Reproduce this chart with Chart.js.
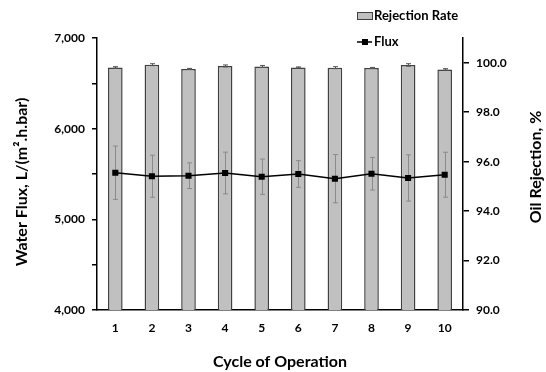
<!DOCTYPE html>
<html>
<head>
<meta charset="utf-8">
<script src="https://cdn.jsdelivr.net/npm/chart.js@4.4.1/dist/chart.umd.min.js"></script>
<style>
  html, body { margin: 0; padding: 0; background: #fff; }
  #chart { display: block; }
</style>
</head>
<body>
<canvas id="chart" width="546" height="372"></canvas>
<script>
const cycles = ["1", "2", "3", "4", "5", "6", "7", "8", "9", "10"];
const rejectionRate = [99.81, 99.92, 99.75, 99.87, 99.85, 99.81, 99.80, 99.79, 99.91, 99.73];
const rejectionErr = [0.03, 0.04, 0.02, 0.04, 0.04, 0.02, 0.04, 0.02, 0.05, 0.03];
const flux = [5514, 5475, 5481, 5511, 5470, 5500, 5448, 5503, 5456, 5492];
const fluxErr = [294, 232, 142, 230, 195, 147, 266, 180, 255, 248];

const FONT = "Lato, 'Open Sans', sans-serif";
const leftTitle = "Water Flux, L/(m².h.bar)";
const rightTitle = "Oil Rejection, %";

// draws error bars from each dataset's errors array using its own scale
const errorBars = {
    id: "errorBars",
    drawFor(chart, index) {
        const ds = chart.data.datasets[index];
        if (!ds.errors) return;
        const meta = chart.getDatasetMeta(index);
        const scale = chart.scales[meta.yAxisID];
        const ctx = chart.ctx;
        ctx.save();
        ctx.strokeStyle = ds.errorColor;
        ctx.lineWidth = 1;
        meta.data.forEach((el, i) => {
            const v = ds.data[i];
            const hi = scale.getPixelForValue(v + ds.errors[i]);
            const lo = scale.getPixelForValue(v - ds.errors[i]);
            const x = Math.round(el.x) + 0.5;
            ctx.beginPath();
            ctx.moveTo(x, hi); ctx.lineTo(x, lo);
            ctx.moveTo(x - 2.5, hi); ctx.lineTo(x + 2.5, hi);
            ctx.moveTo(x - 2.5, lo); ctx.lineTo(x + 2.5, lo);
            ctx.stroke();
        });
        ctx.restore();
    },
    beforeDatasetDraw(chart, args) {
        if (chart.data.datasets[args.index].errorBehind) this.drawFor(chart, args.index);
    },
    afterDatasetDraw(chart, args) {
        if (!chart.data.datasets[args.index].errorBehind) this.drawFor(chart, args.index);
    }
};

// both y titles read bottom to top, as in the original
const sideTitles = {
    id: "sideTitles",
    afterDraw(chart) {
        const ctx = chart.ctx;
        const area = chart.chartArea;
        const mid = (area.top + area.bottom) / 2;
        ctx.save();
        ctx.font = "bold 16px " + FONT;
        ctx.fillStyle = "#000";
        ctx.textAlign = "center";
        ctx.textBaseline = "middle";
        [[leftTitle, 22, mid + 8], [rightTitle, 536, mid - 7]].forEach(([text, x, y]) => {
            ctx.save();
            ctx.translate(x, y);
            ctx.rotate(-Math.PI / 2);
            ctx.fillText(text, 0, 0);
            ctx.restore();
        });
        ctx.restore();
    }
};

// legend stacked in the top right corner
const cornerLegend = {
    id: "cornerLegend",
    afterDraw(chart) {
        const ctx = chart.ctx;
        const bar = chart.data.datasets[0];
        const line = chart.data.datasets[1];
        ctx.save();
        ctx.font = "bold 13px " + FONT;
        ctx.textBaseline = "middle";

        ctx.fillStyle = bar.backgroundColor;
        ctx.fillRect(357.5, 12.5, 15, 7);
        ctx.strokeStyle = bar.borderColor;
        ctx.lineWidth = 1;
        ctx.strokeRect(357.5, 12.5, 15, 7);
        ctx.fillStyle = "#000";
        ctx.fillText(bar.label, 374, 16);

        ctx.strokeStyle = line.borderColor;
        ctx.lineWidth = 1.5;
        ctx.beginPath();
        ctx.moveTo(357, 42); ctx.lineTo(372, 42);
        ctx.stroke();
        ctx.fillRect(362, 39, 6, 6);
        ctx.fillText(line.label, 374, 42);
        ctx.restore();
    }
};

new Chart(document.getElementById("chart"), {
    data: {
        labels: cycles,
        datasets: [
            {
                type: "bar",
                label: "Rejection Rate",
                data: rejectionRate,
                errors: rejectionErr,
                errorColor: "#555",
                yAxisID: "y1",
                backgroundColor: "#c0c0c0",
                borderColor: "#404040",
                borderWidth: 1.5,
                barPercentage: 0.4,
                categoryPercentage: 1,
                order: 2
            },
            {
                type: "line",
                label: "Flux",
                data: flux,
                errors: fluxErr,
                errorColor: "#8a8a8a",
                errorBehind: true,
                yAxisID: "y",
                borderColor: "#000",
                backgroundColor: "#000",
                borderWidth: 1.5,
                pointStyle: "rect",
                pointRadius: 4.3,
                pointBorderWidth: 0,
                tension: 0,
                order: 1
            }
        ]
    },
    options: {
        responsive: false,
        animation: false,
        layout: { padding: { top: 38, left: 0, right: 0, bottom: 0 } },
        plugins: {
            legend: { display: false },
            tooltip: { enabled: false }
        },
        scales: {
            x: {
                offset: true,
                grid: { display: false, drawTicks: false },
                border: { color: "#000", width: 1.5 },
                ticks: { color: "#000", padding: 11, font: { family: FONT, size: 12, weight: "bold" } },
                title: {
                    display: true,
                    text: "Cycle of Operation",
                    color: "#000",
                    font: { family: FONT, size: 16, weight: "bold", lineHeight: 1 },
                    padding: { top: 0, bottom: 2 }
                },
                afterFit: s => { s.height = 62; }
            },
            y: {
                position: "left",
                min: 4000,
                max: 7000,
                grid: { drawOnChartArea: false, color: "#000", tickLength: 5, lineWidth: 1.5 },
                border: { color: "#000", width: 1.5 },
                ticks: {
                    stepSize: 500,
                    autoSkip: false,
                    padding: 7,
                    color: "#000",
                    font: { family: FONT, size: 12, weight: "bold" },
                    callback: v => v % 1000 === 0 ? v.toLocaleString("en-US") : ""
                },
                afterFit: s => { s.width = 97; }
            },
            y1: {
                position: "right",
                min: 90,
                max: 101,
                grid: { drawOnChartArea: false, color: "#000", tickLength: 6, lineWidth: 1.5 },
                border: { color: "#000", width: 1.5 },
                ticks: {
                    stepSize: 2,
                    autoSkip: false,
                    padding: 7,
                    color: "#000",
                    font: { family: FONT, size: 12, weight: "bold" },
                    callback: v => v.toFixed(1)
                },
                afterBuildTicks: s => { s.ticks = s.ticks.filter(t => t.value <= 100); },
                afterFit: s => { s.width = 83; }
            }
        }
    },
    plugins: [errorBars, sideTitles, cornerLegend]
});
</script>
</body>
</html>
